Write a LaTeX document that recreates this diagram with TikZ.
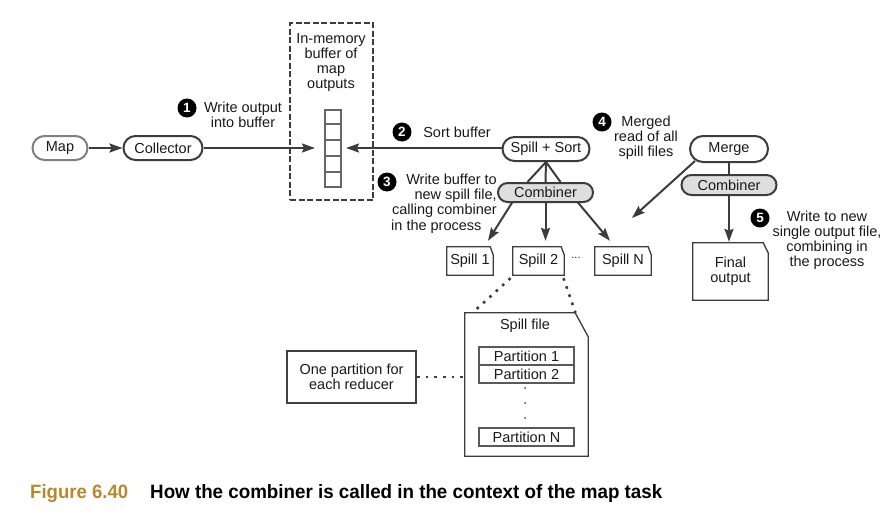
\documentclass[tikz,border=0pt]{standalone}
\usepackage{fontspec}
\setmainfont{Liberation Sans}
\usetikzlibrary{shapes.misc,arrows.meta,calc}
\definecolor{lncol}{HTML}{3C3C3C}
\definecolor{goldcol}{HTML}{B8872E}
\begin{document}
\begin{tikzpicture}[x=1pt,y=-1pt,
  every node/.style={font=\fontsize{14.5}{15}\selectfont, text=black!90},
  pill/.style={rounded rectangle, draw=lncol, line width=2pt, inner sep=0pt},
  cpill/.style={pill, fill=black!13},
  arr/.style={draw=lncol, line width=2pt, -{Stealth[length=13pt,width=9pt,inset=2pt]}},
  conn/.style={draw=lncol, line width=2pt},
  num/.style={circle, fill=black, text=white, inner sep=0pt, minimum size=19pt, font=\fontsize{13.5}{13.5}\selectfont\bfseries},
  docbox/.style={rectangle, inner sep=0pt},
  docline/.style={draw=lncol, line width=1.3pt, line join=miter},
  dotline/.style={draw=lncol, line width=2.6pt, dash pattern=on 2.6pt off 6pt},
  pbox/.style={rectangle, draw=black!65, line width=2.2pt, inner sep=0pt, minimum width=95pt, minimum height=18pt},
  lbl/.style={inner sep=0pt, align=center},
]
\useasboundingbox (0,0) rectangle (895,514);

% pills
\node[pill, draw=black!50, minimum width=55pt, minimum height=24pt] (map) at (60,148) {Map};
\node[pill, minimum width=79pt, minimum height=24pt] (col) at (163,148) {Collector};
\node[pill, minimum width=87pt, minimum height=24pt] (ss) at (546,149) {Spill + Sort};
\node[cpill, minimum width=95pt, minimum height=19pt] (comb) at (545.5,192.5) {Combiner};
\node[pill, minimum width=78pt, minimum height=26pt] (merge) at (729,149) {Merge};
\node[cpill, minimum width=95pt, minimum height=20pt] (comb2) at (729,185) {Combiner};

% buffer
\node[draw=lncol, line width=1.5pt, dash pattern=on 6pt off 2.5pt, minimum width=83pt, minimum height=177pt, inner sep=0pt] (bufbox) at (331.5,111.5) {};
\node[lbl] (buftxt) at (331,63) {In-memory\\buffer of\\map\\outputs};
\node[draw=black!60, line width=2pt, minimum width=16pt, minimum height=77pt, inner sep=0pt] (buf) at (333,148) {};
\foreach \i in {1,...,4}
  \draw[draw=black!60, line width=2pt] ($(buf.north west)!\i/5!(buf.south west)$) -- ($(buf.north east)!\i/5!(buf.south east)$);

% documents
\node[docbox, minimum width=46pt, minimum height=28pt] (s1) at (470,261) {Spill 1};
\node[docbox, minimum width=51pt, minimum height=28pt] (s2) at (538.5,261) {Spill 2};
\node[docbox, minimum width=56pt, minimum height=28pt] (sN) at (623,261) {Spill N};
\node[docbox, minimum width=75pt, minimum height=57pt, align=center] (fin) at (730.5,271.5) {Final\\output};
\node[docbox, minimum width=123pt, minimum height=143pt] (sf) at (526.5,384.5) {};
\foreach \n/\fx/\fy in {s1/3/8, s2/3/8, sN/3/8, fin/5/10, sf/13/24}
  \draw[docline] (\n.south west) -- (\n.north west) -- ([xshift=-\fx pt]\n.north east) -- ([yshift=-\fy pt]\n.north east) -- (\n.south east) -- cycle;
\node[inner sep=0pt, font=\fontsize{11}{11}\selectfont] (ell) at (576,258) {...};

% spill file contents
\node[inner sep=0pt] (sftitle) at (525,326) {Spill file};
\node[pbox] (p1) at (526.5,356) {Partition 1};
\node[pbox] (p2) at (526.5,374) {Partition 2};
\node[pbox] (pN) at (526.5,437) {Partition N};
\foreach \yy in {388,403,418} \fill[black!70] (525,\yy) circle (1pt);
\node[draw=black!75, line width=2.2pt, minimum width=129pt, minimum height=52pt, inner sep=0pt, align=center] (op) at (351.5,377) {One partition for\\each reducer};

% connectors
\draw[arr] (map.east) -- (col.west);
\draw[arr] (col.east) -- ([xshift=-9pt]buf.west);
\draw[arr] (ss.west |- buf.east) -- ([xshift=4pt]buf.east);
\draw[conn] (ss.south) -- ([xshift=-18pt]comb.north);
\draw[conn] (ss.south) -- (comb.north);
\draw[conn] (ss.south) -- ([xshift=15pt]comb.north);
\draw[arr] ([xshift=-33pt,yshift=1pt]comb.south) -- ([xshift=18pt,yshift=6pt]s1.north);
\draw[arr] (comb.south) -- ([yshift=6pt]comb.south |- s2.north);
\draw[arr] ([xshift=32pt,yshift=1pt]comb.south) -- ([xshift=-13pt,yshift=6pt]sN.north);
\coordinate (m4) at (632,218);
\draw[arr] ([xshift=-34pt,yshift=2pt]merge.south) -- (m4);
\draw[conn] (merge.south) -- (merge.south |- comb2.north);
\draw[arr] (comb2.south) -- ([yshift=1pt]comb2.south |- fin.north);
\draw[dotline] ([xshift=-28pt,yshift=-3pt]s2.south) -- ([xshift=-54pt]sf.north);
\draw[dotline] ([xshift=25pt,yshift=-3pt]s2.south) -- ([xshift=49pt]sf.north);
\draw[dotline] (op.east) -- (op.east -| sf.west);

% step labels
\node[num] (n1) at (187,108) {1};
\node[lbl] (t1) at (243,115) {Write output\\into buffer};
\node[num] (n2) at (402,132) {2};
\node[lbl] (t2) at (457,132) {Sort buffer};
\node[num] (n3) at (387,182) {3};
\node[inner sep=0pt, align=right, anchor=north east] (t3a) at (497,174) {Write buffer to\\new spill file,\\calling combiner};
\node[inner sep=0pt, anchor=west] (t3b) at (391,227) {in the process};
\node[num] (n4) at (602,122) {4};
\node[lbl] (t4) at (646,138) {Merged\\read of all\\spill files};
\node[num] (n5) at (760,218) {5};
\node[lbl] (t5) at (827,240) {Write to new\\single output file,\\combining in\\the process};

% caption
\node[inner sep=0pt, anchor=base west, text=goldcol] (figlbl) at (30,498) {\resizebox{98pt}{14pt}{\bfseries Figure 6.40}};
\node[inner sep=0pt, anchor=base west, text=black] (figtxt) at (150,498) {\resizebox{512pt}{14pt}{\bfseries How the combiner is called in the context of the map task}};
\end{tikzpicture}
\end{document}
